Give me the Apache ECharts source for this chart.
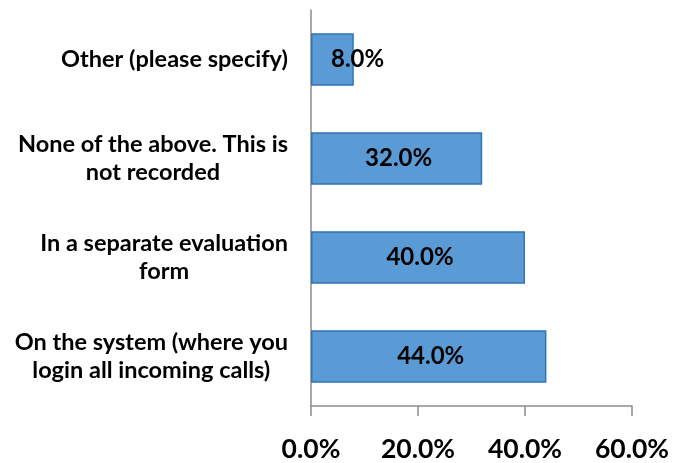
<!DOCTYPE html>
<html><head><meta charset="utf-8">
<script src="https://cdn.jsdelivr.net/npm/echarts@6/dist/echarts.min.js"></script>
<style>html,body{margin:0;padding:0;background:#fff}#c{width:687px;height:463px}</style>
</head><body><div id="c"></div>
<script>
const categories = [
  "On the system (where you\nlogin all incoming calls)",
  "In a separate evaluation\nform",
  "None of the above. This is\nnot recorded",
  "Other (please specify)"
];
const values = [44.0, 40.0, 32.0, 8.0];
const xTicks = [0, 20, 40, 60];

const FONT = 'Lato, "Open Sans", sans-serif';
const chart = echarts.init(document.getElementById('c'));
chart.setOption({
  animation: false,
  grid: { left: 311, right: 55, top: 10, bottom: 55, containLabel: false },
  xAxis: {
    type: 'value', min: xTicks[0], max: xTicks[xTicks.length - 1], interval: 20,
    axisLine: { show: true, lineStyle: { color: '#8c8c8c', width: 1.5 } },
    axisTick: { show: true, length: 10, lineStyle: { color: '#8c8c8c', width: 1.5 } },
    splitLine: { show: false },
    axisLabel: { formatter: v => v.toFixed(1) + '%', margin: 30, color: '#000',
      fontFamily: FONT, fontWeight: 'bold', fontSize: 26.5 }
  },
  yAxis: {
    type: 'category', data: categories,
    axisLine: { show: true, lineStyle: { color: '#8c8c8c', width: 1.5 } },
    axisTick: { show: false },
    axisLabel: { margin: 23, color: '#000', fontFamily: FONT, fontWeight: 'bold', fontSize: 23.5,
      lineHeight: 28,
      formatter: v => v.split('\n').map(s => '{c|' + s + '}').join('\n'),
      rich: { c: { align: 'center', fontFamily: FONT, fontWeight: 'bold', fontSize: 23.5, lineHeight: 28, color: '#000' } }
    }
  },
  series: [{
    type: 'bar',
    data: values.map(v => v < 10
      ? { value: v, label: { position: 'insideLeft', distance: 18 } }
      : v),
    barCategoryGap: '47%',
    itemStyle: { color: '#5b9bd5', borderColor: '#2e75b6', borderWidth: 1.5 },
    label: { show: true, position: 'inside', offset: [2, 0], formatter: p => p.value.toFixed(1) + '%',
      color: '#000', fontFamily: FONT, fontWeight: 'bold', fontSize: 24 }
  }]
});
</script></body></html>
